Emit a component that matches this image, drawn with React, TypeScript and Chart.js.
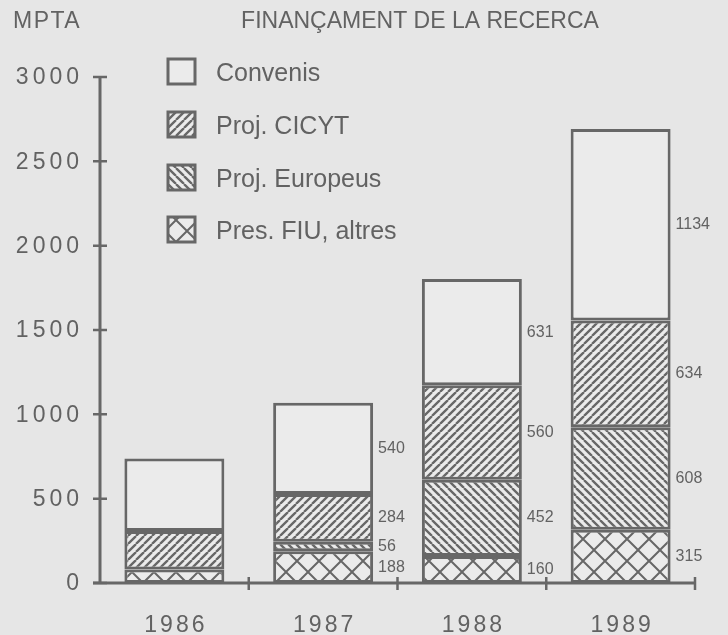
import React, { useEffect, useRef } from 'react';
import { Chart, registerables } from 'chart.js';

Chart.register(...registerables);

// ---- data ----
const years = ['1986', '1987', '1988', '1989'];
const presFIU = [80, 188, 160, 315];
const projEuropeus = [0, 56, 452, 608];
const projCICYT = [228, 284, 560, 634];
const convenis = [430, 540, 631, 1134];
const labeledYears = ['1987', '1988', '1989'];
const yTicks = [0, 500, 1000, 1500, 2000, 2500, 3000];
const seriesNames = ['Pres. FIU, altres', 'Proj. Europeus', 'Proj. CICYT', 'Convenis'];
const chartTitle = 'FINANÇAMENT DE LA RECERCA';
const unitLabel = 'MPTA';

// ---- style ----
const BG = '#e6e6e6';
const FILL = '#ebebeb';
const INK = '#676767';
const TEXT = '#626262';
const FONT = "'Liberation Sans', Arial, Helvetica, sans-serif";

type Kind = 'none' | 'fwd' | 'back' | 'cross';

function makePattern(kind: Kind): CanvasPattern | string {
  if (kind === 'none') return FILL;
  const s = kind === 'cross' ? 22 : 8;
  const c = document.createElement('canvas');
  c.width = s;
  c.height = s;
  const g = c.getContext('2d')!;
  g.fillStyle = FILL;
  g.fillRect(0, 0, s, s);
  g.strokeStyle = INK;
  g.lineWidth = kind === 'cross' ? 2 : 2.3;
  g.beginPath();
  if (kind === 'fwd' || kind === 'cross') {
    for (const k of [-1, 0, 1]) {
      g.moveTo(k * s, s);
      g.lineTo(k * s + s, 0);
    }
  }
  if (kind === 'back' || kind === 'cross') {
    for (const k of [-1, 0, 1]) {
      g.moveTo(k * s, 0);
      g.lineTo(k * s + s, s);
    }
  }
  g.stroke();
  return g.createPattern(c, 'repeat')!;
}

export default function App() {
  const ref = useRef<HTMLCanvasElement | null>(null);

  useEffect(() => {
    document.body.style.margin = '0';
    document.body.style.background = BG;
    const canvas = ref.current!;
    const kinds: Kind[] = ['cross', 'back', 'fwd', 'none'];
    const fills = kinds.map(makePattern);
    const values = [presFIU, projEuropeus, projCICYT, convenis];

    const decor = {
      id: 'decor',
      beforeDraw(chart: any) {
        const ctx = chart.ctx;
        ctx.save();
        ctx.fillStyle = BG;
        ctx.fillRect(0, 0, chart.width, chart.height);
        ctx.restore();
      },
      afterDraw(chart: any) {
        const ctx: CanvasRenderingContext2D = chart.ctx;
        const area = chart.chartArea;
        const xs = chart.scales.x;
        const ys = chart.scales.y;
        ctx.save();

        // value labels
        ctx.font = `16px ${FONT}`;
        ctx.fillStyle = TEXT;
        ctx.textAlign = 'left';
        ctx.textBaseline = 'middle';
        values.forEach((arr, di) => {
          const meta = chart.getDatasetMeta(di);
          arr.forEach((v, j) => {
            if (!labeledYears.includes(years[j])) return;
            const bar: any = meta.data[j];
            const p = bar.getProps(['x', 'y', 'base', 'width'], true);
            ctx.fillText(String(v), p.x + p.width / 2 + 5, (p.y + p.base) / 2);
          });
        });

        // axes
        ctx.strokeStyle = INK;
        ctx.lineCap = 'butt';
        ctx.lineWidth = 3;
        const x0 = area.left;
        const yTop = ys.getPixelForValue(yTicks[yTicks.length - 1]);
        const yBot = ys.getPixelForValue(0);
        ctx.beginPath();
        ctx.moveTo(x0, yTop);
        ctx.lineTo(x0, yBot);
        ctx.moveTo(x0 - 7, yBot);
        ctx.lineTo(area.right, yBot);
        ctx.stroke();

        ctx.lineWidth = 2.5;
        ctx.beginPath();
        yTicks.forEach((t) => {
          const y = ys.getPixelForValue(t);
          ctx.moveTo(x0 - 7, y);
          ctx.lineTo(x0 + 7, y);
        });
        const centers = years.map((_, i) => xs.getPixelForValue(i));
        const step = centers[1] - centers[0];
        centers.forEach((c) => {
          const bx = c + step / 2;
          ctx.moveTo(bx, yBot - 6);
          ctx.lineTo(bx, yBot + 7);
        });
        ctx.stroke();

        // y tick labels
        ctx.fillStyle = TEXT;
        ctx.font = `23px ${FONT}`;
        (ctx as any).letterSpacing = '4px';
        ctx.textAlign = 'right';
        ctx.textBaseline = 'middle';
        yTicks.forEach((t) => {
          ctx.fillText(String(t), x0 - 17, ys.getPixelForValue(t) + 1);
        });

        // x labels
        (ctx as any).letterSpacing = '3px';
        ctx.textAlign = 'center';
        years.forEach((yr, i) => {
          ctx.fillText(yr, centers[i] + 1.5, yBot + 43);
        });

        // unit label and title
        (ctx as any).letterSpacing = '1.5px';
        ctx.textAlign = 'left';
        ctx.fillText(unitLabel, 13, 22);
        (ctx as any).letterSpacing = '0px';
        ctx.textAlign = 'center';
        ctx.fillText(chartTitle, 420, 22);

        // legend (top to bottom: reverse stacking order)
        ctx.font = `25px ${FONT}`;
        ctx.textAlign = 'left';
        const rowY = [71, 124, 177, 229];
        for (let r = 0; r < 4; r++) {
          const di = 3 - r;
          const cy = rowY[r];
          ctx.fillStyle = fills[di] as any;
          ctx.fillRect(168, cy - 12, 27, 25);
          ctx.lineWidth = 3;
          ctx.strokeStyle = INK;
          ctx.strokeRect(168, cy - 12, 27, 25);
          ctx.fillStyle = TEXT;
          ctx.fillText(seriesNames[di], 216, cy + 3);
        }
        ctx.restore();
      },
    };

    const chart = new Chart(canvas, {
      type: 'bar',
      data: {
        labels: years,
        datasets: values.map((arr, i) => ({
          label: seriesNames[i],
          data: arr,
          backgroundColor: fills[i] as any,
          borderColor: INK,
          borderWidth: 3,
          borderSkipped: false,
          inflateAmount: 0,
          categoryPercentage: 1,
          barPercentage: 0.672,
        })),
      },
      options: {
        responsive: false,
        animation: false,
        events: [],
        layout: { padding: { top: 77, right: 33, left: 0, bottom: 0 } },
        plugins: {
          legend: { display: false },
          tooltip: { enabled: false },
          title: { display: false },
        },
        scales: {
          x: {
            stacked: true,
            grid: { display: false, drawTicks: false },
            border: { display: false },
            ticks: { display: false },
            afterFit: (s: any) => {
              s.height = 52;
            },
          },
          y: {
            stacked: true,
            min: 0,
            max: 3000,
            grid: { display: false, drawTicks: false },
            border: { display: false },
            ticks: { display: false, stepSize: 500 },
            afterFit: (s: any) => {
              s.width = 100;
            },
          },
        },
      },
      plugins: [decor],
    });
    return () => chart.destroy();
  }, []);

  return <canvas ref={ref} width={728} height={635} style={{ display: 'block' }} />;
}
